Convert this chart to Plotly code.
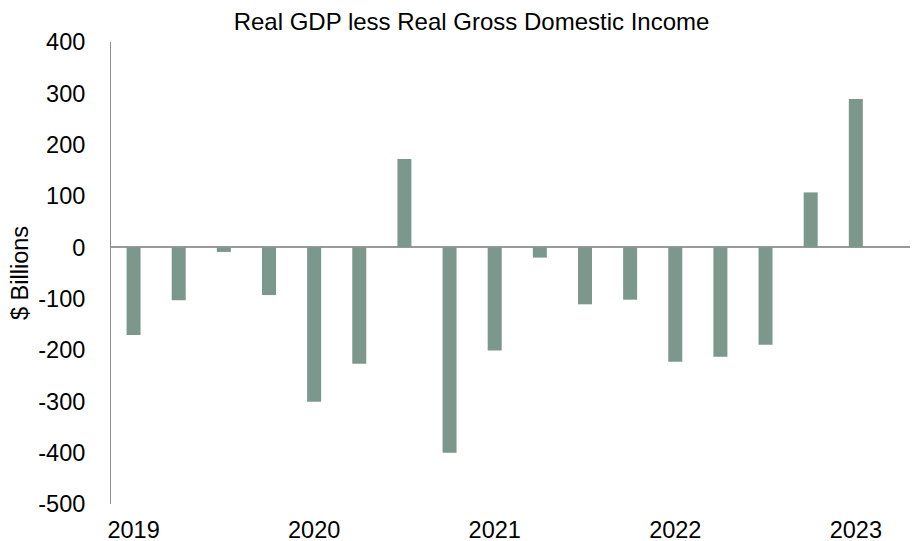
import plotly.graph_objects as go

quarters = ["2019Q1", "2019Q2", "2019Q3", "2019Q4",
            "2020Q1", "2020Q2", "2020Q3", "2020Q4",
            "2021Q1", "2021Q2", "2021Q3", "2021Q4",
            "2022Q1", "2022Q2", "2022Q3", "2022Q4",
            "2023Q1"]
values = [-171, -103, -9, -93,
          -301, -227, 172, -400,
          -201, -20, -111, -102,
          -223, -213, -190, 107,
          289]
tick_quarters = ["2019Q1", "2020Q1", "2021Q1", "2022Q1", "2023Q1"]
tick_labels = ["2019", "2020", "2021", "2022", "2023"]
y_ticks = [400, 300, 200, 100, 0, -100, -200, -300, -400, -500]
y_tick_labels = ["400", "300", "200", "100", "0", "-100", "-200", "-300", "-400", "-500"]

FONT = "Liberation Sans, Arial, sans-serif"
BAR_COLOR = "#7C978C"
FS = 23.5

fig = go.Figure(go.Bar(x=quarters, y=values, marker_color=BAR_COLOR,
                       marker_line_width=0))

fig.update_layout(
    width=912, height=541,
    margin=dict(l=111, r=2, t=42, b=37),
    paper_bgcolor="white", plot_bgcolor="white",
    bargap=0.69,
    showlegend=False,
    font=dict(family=FONT, size=FS, color="black"),
    title=dict(text="Real GDP less Real Gross Domestic Income",
               x=471.5 / 912, xanchor="center", xref="container",
               y=1 - 22 / 541, yanchor="middle", yref="container",
               font=dict(family=FONT, size=24, color="black")),
)

fig.update_xaxes(
    type="category",
    categoryorder="array", categoryarray=quarters,
    range=[-0.5, 17.2],
    tickmode="array", tickvals=tick_quarters, ticktext=tick_labels,
    showgrid=False, showline=False, ticks="",
    ticklabelstandoff=9,
    automargin=False,
    tickfont=dict(family=FONT, size=FS, color="black"),
)

fig.update_yaxes(
    range=[-500, 400],
    tickmode="array", tickvals=y_ticks, ticktext=y_tick_labels,
    showgrid=False,
    showline=True, linecolor="#8c8c8c", linewidth=1,
    zeroline=True, zerolinecolor="#9a9a9a", zerolinewidth=2,
    ticks="",
    ticklabelstandoff=20,
    automargin=False,
    tickfont=dict(family=FONT, size=FS, color="black"),
    title=dict(text="$ Billions", standoff=3,
               font=dict(family=FONT, size=FS, color="black")),
)

fig.write_html("out.html")
